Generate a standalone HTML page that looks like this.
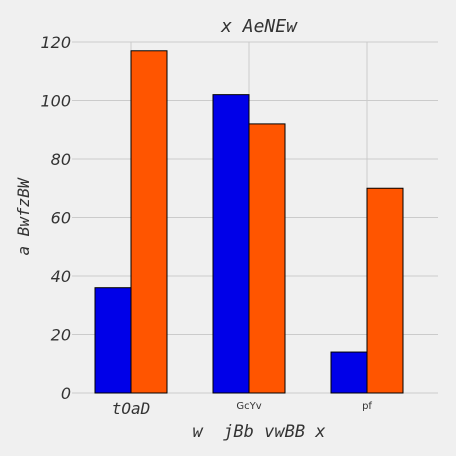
<!DOCTYPE html>
<html><head><meta charset="utf-8"><style>
body{margin:0;background:#f0f0f0}
svg{display:block}
.m{font-family:"DejaVu Sans Mono","Liberation Mono",monospace;font-style:italic;fill:#333}
.si{font-family:"DejaVu Sans","Liberation Sans",sans-serif;font-style:italic;fill:#333}
.s{font-family:"DejaVu Sans","Liberation Sans",sans-serif;fill:#333}
</style></head><body>
<svg id="c" width="456" height="456">
<rect width="456" height="456" fill="#f0f0f0"/>
<g id="grid"></g><g id="bars"></g><g id="labels"></g>
<text class="m" x="259" y="32" font-size="18" text-anchor="middle">x AeNEw</text>
<text class="m" x="259" y="437" font-size="17" text-anchor="middle" xml:space="preserve">w  jBb vwBB x</text>
<text class="m" x="0" y="0" font-size="16" text-anchor="middle" transform="translate(29,217) rotate(-90)">a BwfzBW</text>
</svg>
<script>
const categories=["tOaD","GcYv","pf"];
const blueValues=[36,102,14];
const orangeValues=[117,92,70];
const yTicks=[0,20,40,60,80,100,120];
const ns="http://www.w3.org/2000/svg";
const x0=72,x1=438,y0=393,y1=42;
const y=v=>y0-(v/120)*(y0-y1);
const cx=i=>131+i*118;
const bw=36;
function mk(t,a,p){const e=document.createElementNS(ns,t);for(const k in a)e.setAttribute(k,a[k]);p.appendChild(e);return e;}
const grid=document.getElementById('grid'),bars=document.getElementById('bars'),labels=document.getElementById('labels');
yTicks.forEach(t=>{
 const l=mk('line',{x1:x0,x2:x1,y1:y(t),y2:y(t),stroke:'#cbcbcb','stroke-width':1},grid);
 
 
 const tx=mk('text',{x:71,y:y(t)+6,'font-size':16,'text-anchor':'end',class:'si'},labels);
 tx.textContent=t;
 
 
});
categories.forEach((c,i)=>{
 const l=mk('line',{x1:cx(i),x2:cx(i),y1:y1,y2:y0,stroke:'#cbcbcb','stroke-width':1},grid);
 
 
 const b=mk('rect',{x:cx(i)-bw,y:y(blueValues[i]),width:bw,height:y0-y(blueValues[i]),fill:'#0000e8',stroke:'#000','stroke-width':1},bars);
 
 
 const o=mk('rect',{x:cx(i),y:y(orangeValues[i]),width:bw,height:y0-y(orangeValues[i]),fill:'#ff5500',stroke:'#000','stroke-width':1},bars);
 
 
 const big=i===0;
 const tx=mk('text',{x:cx(i),y:big?414:409,'font-size':big?16:10,'text-anchor':'middle',class:big?'m':'s'},labels);
 tx.textContent=c;
 
 
});
</script>
</body></html>
